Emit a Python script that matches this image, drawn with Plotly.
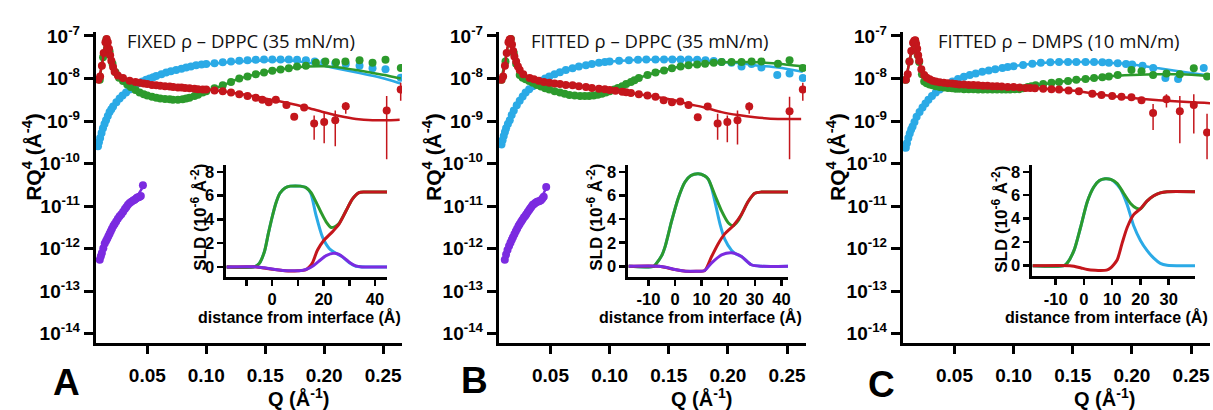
import plotly.graph_objects as go

W, H = 1213, 410

BLUE = "#2BAAE6"
GREEN = "#2C9A2C"
RED = "#C4161C"
PURPLE = "#7B2BE0"

# ---------------- Reflectivity data (Q in 1/A, log10 of RQ^4) ----------------
# Panel A : FIXED rho - DPPC (35 mN/m)
A_blue_q = [0.0082, 0.0090, 0.0100, 0.0112, 0.0124, 0.0137, 0.0150, 0.0165, 0.0180, 0.0195, 0.0210, 0.0238, 0.0265, 0.0290, 0.0320, 0.0350, 0.0375, 0.0400, 0.0430, 0.0460, 0.0490, 0.0520, 0.0550, 0.0576, 0.0620, 0.0660, 0.0700, 0.0745, 0.0790, 0.0830, 0.0870, 0.0914, 0.0960, 0.1000, 0.1070, 0.1140, 0.1210, 0.1280, 0.1350, 0.1420, 0.1490, 0.1560, 0.1630, 0.1700, 0.1770, 0.1845, 0.1920, 0.2000, 0.2094, 0.2183, 0.2300, 0.2410, 0.2520, 0.2649]
A_blue_v = [-9.59, -9.50, -9.40, -9.28, -9.17, -9.07, -8.98, -8.88, -8.79, -8.72, -8.66, -8.56, -8.47, -8.40, -8.33, -8.26, -8.21, -8.16, -8.11, -8.07, -8.03, -8.00, -7.97, -7.94, -7.90, -7.86, -7.83, -7.80, -7.77, -7.74, -7.72, -7.69, -7.67, -7.66, -7.64, -7.62, -7.60, -7.58, -7.57, -7.56, -7.55, -7.55, -7.55, -7.55, -7.56, -7.57, -7.60, -7.62, -7.64, -7.66, -7.70, -7.76, -7.78, -7.98]
A_blue_fit_q = [0.0082, 0.0124, 0.0180, 0.0238, 0.0350, 0.0460, 0.0576, 0.0745, 0.0914, 0.1140, 0.1420, 0.1650, 0.1850, 0.2000, 0.2150, 0.2300, 0.2450, 0.2560, 0.2650]
A_blue_fit_v = [-9.59, -9.17, -8.79, -8.56, -8.26, -8.07, -7.94, -7.80, -7.70, -7.63, -7.58, -7.57, -7.62, -7.70, -7.79, -7.87, -7.96, -8.04, -8.12]

A_green_q = [0.0097, 0.0125, 0.0153, 0.0180, 0.0205, 0.0230, 0.0260, 0.0294, 0.0330, 0.0360, 0.0400, 0.0435, 0.0470, 0.0500, 0.0540, 0.0576, 0.0610, 0.0650, 0.0690, 0.0717, 0.0760, 0.0800, 0.0830, 0.0858, 0.0900, 0.0930, 0.0970, 0.1000, 0.1070, 0.1140, 0.1210, 0.1280, 0.1350, 0.1420, 0.1490, 0.1560, 0.1630, 0.1700, 0.1770, 0.1845, 0.1930, 0.2010, 0.2100, 0.2180, 0.2300, 0.2410, 0.2520, 0.2650]
A_green_v = [-8.03, -7.50, -7.08, -7.36, -7.65, -7.85, -7.98, -8.06, -8.14, -8.20, -8.27, -8.33, -8.37, -8.40, -8.43, -8.45, -8.47, -8.48, -8.49, -8.50, -8.50, -8.49, -8.47, -8.45, -8.41, -8.38, -8.33, -8.30, -8.23, -8.16, -8.08, -8.00, -7.95, -7.90, -7.86, -7.82, -7.79, -7.76, -7.72, -7.70, -7.63, -7.60, -7.62, -7.60, -7.57, -7.63, -7.56, -7.75]
A_green_fit_q = [0.0097, 0.0153, 0.0200, 0.0250, 0.0294, 0.0435, 0.0576, 0.0717, 0.0858, 0.1000, 0.1140, 0.1280, 0.1420, 0.1550, 0.1700, 0.1850, 0.2000, 0.2130, 0.2270, 0.2410, 0.2550, 0.2650]
A_green_fit_v = [-8.03, -7.08, -7.62, -7.92, -8.06, -8.33, -8.45, -8.50, -8.46, -8.30, -8.16, -8.00, -7.90, -7.82, -7.76, -7.72, -7.71, -7.74, -7.80, -7.87, -7.94, -8.00]

A_red_q = [0.0085, 0.0100, 0.0115, 0.0130, 0.0145, 0.0155, 0.0165, 0.0175, 0.0185, 0.0195, 0.0210, 0.0223, 0.0250, 0.0294, 0.0350, 0.0400, 0.0435, 0.0470, 0.0500, 0.0540, 0.0576, 0.0610, 0.0650, 0.0690, 0.0720, 0.0760, 0.0790, 0.0820, 0.0858, 0.0900, 0.0930, 0.0970, 0.1000, 0.1070, 0.1140, 0.1210, 0.1280, 0.1350, 0.1420, 0.1475, 0.1530, 0.1590, 0.1680, 0.1746, 0.1830]
A_red_v = [-8.03, -7.95, -7.70, -7.40, -7.15, -7.07, -7.15, -7.30, -7.45, -7.58, -7.73, -7.84, -7.93, -7.99, -8.05, -8.08, -8.10, -8.12, -8.13, -8.15, -8.16, -8.17, -8.18, -8.19, -8.20, -8.21, -8.21, -8.22, -8.23, -8.24, -8.25, -8.26, -8.26, -8.28, -8.30, -8.33, -8.37, -8.41, -8.45, -8.50, -8.56, -8.50, -8.62, -8.90, -8.68]
A_red_err_q = [0.1915, 0.2000, 0.2094, 0.2183, 0.2530, 0.2649]
A_red_err_v = [-9.06, -9.02, -8.98, -8.65, -8.75, -8.26]
A_red_err_hi = [-8.87, -8.79, -8.75, -8.56, -8.41, -8.10]
A_red_err_lo = [-9.44, -9.52, -9.59, -8.83, -9.90, -8.52]
A_red_fit_q = [0.0085, 0.0115, 0.0145, 0.0155, 0.0175, 0.0195, 0.0223, 0.0294, 0.0435, 0.0576, 0.0858, 0.1000, 0.1140, 0.1280, 0.1420, 0.1550, 0.1700, 0.1850, 0.1980, 0.2130, 0.2270, 0.2410, 0.2550, 0.2640]
A_red_fit_v = [-8.03, -7.70, -7.15, -7.07, -7.30, -7.58, -7.84, -7.99, -8.10, -8.16, -8.22, -8.26, -8.30, -8.36, -8.43, -8.50, -8.58, -8.68, -8.78, -8.88, -8.95, -8.98, -8.98, -8.97]

A_purple_q = [0.0097, 0.0106, 0.0115, 0.0127, 0.0139, 0.0150, 0.0160, 0.0170, 0.0180, 0.0190, 0.0200, 0.0212, 0.0223, 0.0236, 0.0250, 0.0265, 0.0280, 0.0295, 0.0310, 0.0323, 0.0336, 0.0350, 0.0365, 0.0380, 0.0393, 0.0405, 0.0415, 0.0425, 0.0435, 0.0445, 0.0463]
A_purple_v = [-12.26, -12.18, -12.10, -11.99, -11.88, -11.82, -11.77, -11.71, -11.65, -11.59, -11.53, -11.47, -11.42, -11.36, -11.30, -11.24, -11.19, -11.13, -11.07, -11.02, -10.97, -10.93, -10.90, -10.87, -10.85, -10.82, -10.80, -10.79, -10.78, -10.76, -10.51]
A_purple_fit_q = [0.0097, 0.0150, 0.0200, 0.0250, 0.0300, 0.0350, 0.0400, 0.0463]
A_purple_fit_v = [-12.24, -11.82, -11.52, -11.29, -11.10, -10.94, -10.82, -10.55]

# Panel B : FITTED rho - DPPC (35 mN/m)
B_blue_q = [0.0086, 0.0095, 0.0105, 0.0115, 0.0125, 0.0140, 0.0156, 0.0172, 0.0190, 0.0215, 0.0240, 0.0265, 0.0290, 0.0320, 0.0351, 0.0385, 0.0420, 0.0455, 0.0490, 0.0535, 0.0580, 0.0630, 0.0687, 0.0740, 0.0800, 0.0850, 0.0910, 0.0960, 0.1000, 0.1080, 0.1163, 0.1240, 0.1310, 0.1388, 0.1460, 0.1530, 0.1600, 0.1667, 0.1740, 0.1810, 0.1880, 0.1947, 0.2030, 0.2115, 0.2200, 0.2283, 0.2417, 0.2521, 0.2633]
B_blue_v = [-9.55, -9.45, -9.35, -9.26, -9.17, -9.07, -8.98, -8.86, -8.75, -8.63, -8.52, -8.42, -8.33, -8.25, -8.18, -8.11, -8.05, -8.00, -7.95, -7.90, -7.85, -7.80, -7.76, -7.72, -7.69, -7.66, -7.63, -7.61, -7.60, -7.58, -7.57, -7.56, -7.55, -7.55, -7.55, -7.55, -7.55, -7.55, -7.56, -7.57, -7.59, -7.61, -7.63, -7.72, -7.66, -7.74, -7.92, -7.88, -7.99]
B_blue_fit_q = [0.0086, 0.0156, 0.0240, 0.0351, 0.0490, 0.0687, 0.0910, 0.1163, 0.1388, 0.1667, 0.1947, 0.2115, 0.2227, 0.2423, 0.2633]
B_blue_fit_v = [-9.55, -8.98, -8.52, -8.18, -7.95, -7.76, -7.63, -7.57, -7.55, -7.55, -7.61, -7.64, -7.69, -7.74, -7.84]

B_green_q = [0.0086, 0.0120, 0.0165, 0.0190, 0.0210, 0.0240, 0.0265, 0.0290, 0.0320, 0.0351, 0.0385, 0.0420, 0.0455, 0.0490, 0.0535, 0.0580, 0.0620, 0.0660, 0.0705, 0.0750, 0.0790, 0.0827, 0.0865, 0.0900, 0.0935, 0.0968, 0.1000, 0.1040, 0.1070, 0.1107, 0.1140, 0.1180, 0.1210, 0.1247, 0.1320, 0.1388, 0.1460, 0.1527, 0.1600, 0.1667, 0.1740, 0.1807, 0.1880, 0.1947, 0.2030, 0.2115, 0.2200, 0.2283, 0.2423, 0.2521, 0.2633]
B_green_v = [-8.03, -7.60, -7.07, -7.40, -7.65, -7.92, -7.98, -8.02, -8.06, -8.10, -8.15, -8.19, -8.23, -8.26, -8.30, -8.33, -8.36, -8.39, -8.40, -8.41, -8.41, -8.41, -8.40, -8.38, -8.36, -8.33, -8.30, -8.26, -8.22, -8.18, -8.13, -8.08, -8.04, -7.99, -7.92, -7.86, -7.81, -7.76, -7.72, -7.69, -7.67, -7.65, -7.63, -7.61, -7.61, -7.61, -7.60, -7.60, -7.65, -7.57, -7.75]
B_green_fit_q = [0.0086, 0.0165, 0.0210, 0.0240, 0.0351, 0.0490, 0.0660, 0.0827, 0.0968, 0.1107, 0.1247, 0.1388, 0.1527, 0.1667, 0.1807, 0.1947, 0.2115, 0.2283, 0.2423, 0.2633]
B_green_fit_v = [-8.03, -7.07, -7.65, -7.92, -8.10, -8.26, -8.39, -8.41, -8.33, -8.18, -7.99, -7.86, -7.76, -7.69, -7.65, -7.62, -7.61, -7.62, -7.65, -7.71]

B_red_q = [0.0086, 0.0100, 0.0115, 0.0130, 0.0145, 0.0155, 0.0165, 0.0175, 0.0185, 0.0195, 0.0210, 0.0225, 0.0240, 0.0270, 0.0324, 0.0360, 0.0400, 0.0445, 0.0490, 0.0535, 0.0580, 0.0630, 0.0687, 0.0740, 0.0800, 0.0850, 0.0910, 0.0960, 0.1000, 0.1050, 0.1107, 0.1140, 0.1180, 0.1247, 0.1320, 0.1388, 0.1457, 0.1527, 0.1597, 0.1667, 0.1745, 0.1829]
B_red_v = [-8.03, -7.95, -7.70, -7.40, -7.15, -7.08, -7.07, -7.20, -7.35, -7.48, -7.60, -7.72, -7.80, -7.90, -7.99, -8.02, -8.05, -8.08, -8.10, -8.12, -8.13, -8.15, -8.16, -8.18, -8.20, -8.22, -8.24, -8.25, -8.27, -8.29, -8.31, -8.32, -8.34, -8.37, -8.40, -8.43, -8.51, -8.56, -8.54, -8.62, -8.91, -8.66]
B_red_err_q = [0.1913, 0.1995, 0.2081, 0.2180, 0.2521, 0.2633]
B_red_err_v = [-9.06, -9.02, -8.98, -8.66, -8.77, -8.26]
B_red_err_hi = [-8.83, -8.87, -8.75, -8.56, -8.43, -8.10]
B_red_err_lo = [-9.44, -9.50, -9.55, -8.83, -9.90, -8.52]
B_red_fit_q = [0.0086, 0.0115, 0.0145, 0.0165, 0.0185, 0.0210, 0.0240, 0.0324, 0.0490, 0.0687, 0.0910, 0.1107, 0.1247, 0.1388, 0.1527, 0.1667, 0.1800, 0.1947, 0.2087, 0.2227, 0.2423, 0.2619]
B_red_fit_v = [-8.03, -7.70, -7.15, -7.07, -7.35, -7.60, -7.80, -7.99, -8.10, -8.16, -8.24, -8.31, -8.37, -8.43, -8.50, -8.60, -8.68, -8.79, -8.86, -8.91, -8.95, -8.95]

B_purple_q = [0.0114, 0.0125, 0.0137, 0.0150, 0.0162, 0.0173, 0.0183, 0.0195, 0.0207, 0.0218, 0.0230, 0.0240, 0.0252, 0.0263, 0.0275, 0.0286, 0.0296, 0.0308, 0.0320, 0.0330, 0.0341, 0.0351, 0.0362, 0.0374, 0.0386, 0.0397, 0.0408, 0.0420, 0.0432, 0.0443, 0.0464]
B_purple_v = [-12.26, -12.14, -12.03, -11.94, -11.86, -11.79, -11.73, -11.66, -11.59, -11.53, -11.47, -11.42, -11.37, -11.32, -11.27, -11.23, -11.19, -11.14, -11.09, -11.05, -11.01, -10.97, -10.95, -10.92, -10.90, -10.89, -10.88, -10.86, -10.82, -10.78, -10.55]
B_purple_fit_q = [0.0114, 0.0183, 0.0240, 0.0296, 0.0351, 0.0408, 0.0464]
B_purple_fit_v = [-12.24, -11.72, -11.42, -11.19, -10.98, -10.85, -10.58]

# Panel C : FITTED rho - DMPS (10 mN/m)
C_blue_q = [0.0089, 0.0098, 0.0110, 0.0122, 0.0134, 0.0146, 0.0162, 0.0180, 0.0205, 0.0230, 0.0255, 0.0280, 0.0310, 0.0342, 0.0375, 0.0410, 0.0445, 0.0483, 0.0530, 0.0580, 0.0630, 0.0680, 0.0735, 0.0790, 0.0845, 0.0905, 0.0950, 0.1000, 0.1080, 0.1158, 0.1230, 0.1310, 0.1384, 0.1460, 0.1530, 0.1608, 0.1680, 0.1750, 0.1805, 0.1880, 0.1950, 0.2002, 0.2090, 0.2180, 0.2283, 0.2390, 0.2607]
C_blue_v = [-9.63, -9.52, -9.40, -9.29, -9.20, -9.13, -9.02, -8.90, -8.79, -8.68, -8.59, -8.50, -8.41, -8.33, -8.26, -8.19, -8.13, -8.07, -8.01, -7.96, -7.92, -7.88, -7.84, -7.81, -7.78, -7.75, -7.73, -7.71, -7.68, -7.65, -7.63, -7.62, -7.61, -7.61, -7.61, -7.61, -7.61, -7.62, -7.63, -7.64, -7.66, -7.67, -7.70, -7.75, -7.99, -8.01, -7.75]
C_blue_fit_q = [0.0089, 0.0146, 0.0230, 0.0342, 0.0483, 0.0680, 0.0905, 0.1158, 0.1384, 0.1608, 0.1805, 0.2002, 0.2227, 0.2424, 0.2635]
C_blue_fit_v = [-9.63, -9.13, -8.68, -8.33, -8.07, -7.88, -7.75, -7.65, -7.61, -7.61, -7.63, -7.67, -7.76, -7.84, -7.92]

C_green_q = [0.0089, 0.0120, 0.0168, 0.0190, 0.0202, 0.0225, 0.0244, 0.0265, 0.0290, 0.0315, 0.0342, 0.0375, 0.0410, 0.0445, 0.0480, 0.0510, 0.0540, 0.0580, 0.0620, 0.0660, 0.0700, 0.0740, 0.0780, 0.0821, 0.0860, 0.0900, 0.0935, 0.0970, 0.1010, 0.1046, 0.1080, 0.1120, 0.1150, 0.1186, 0.1250, 0.1320, 0.1384, 0.1460, 0.1530, 0.1608, 0.1680, 0.1750, 0.1805, 0.1880, 0.1996, 0.2081, 0.2179, 0.2292, 0.2405, 0.2523, 0.2635]
C_green_v = [-8.03, -7.60, -7.11, -7.45, -7.61, -7.90, -8.07, -8.11, -8.14, -8.16, -8.18, -8.20, -8.21, -8.22, -8.23, -8.24, -8.24, -8.25, -8.25, -8.25, -8.26, -8.26, -8.26, -8.26, -8.26, -8.26, -8.26, -8.26, -8.25, -8.25, -8.23, -8.20, -8.18, -8.16, -8.13, -8.10, -8.08, -8.06, -8.03, -8.01, -7.99, -7.97, -7.95, -7.92, -7.80, -7.83, -7.92, -7.88, -7.90, -7.76, -7.95]
C_green_fit_q = [0.0089, 0.0168, 0.0202, 0.0244, 0.0342, 0.0540, 0.0821, 0.1046, 0.1186, 0.1384, 0.1608, 0.1805, 0.2002, 0.2227, 0.2424, 0.2635]
C_green_fit_v = [-8.03, -7.11, -7.61, -8.05, -8.18, -8.24, -8.26, -8.25, -8.16, -8.08, -8.01, -7.95, -7.92, -7.90, -7.90, -7.94]

C_red_q = [0.0089, 0.0105, 0.0120, 0.0135, 0.0150, 0.0160, 0.0168, 0.0176, 0.0185, 0.0193, 0.0202, 0.0220, 0.0244, 0.0265, 0.0290, 0.0315, 0.0342, 0.0375, 0.0410, 0.0445, 0.0480, 0.0510, 0.0540, 0.0580, 0.0620, 0.0660, 0.0700, 0.0740, 0.0780, 0.0821, 0.0860, 0.0900, 0.0950, 0.1000, 0.1050, 0.1102, 0.1140, 0.1180, 0.1250, 0.1320, 0.1384, 0.1465, 0.1552, 0.1665, 0.1743, 0.1833, 0.1912, 0.1996, 0.2081]
C_red_v = [-8.03, -7.90, -7.60, -7.35, -7.16, -7.11, -7.10, -7.18, -7.30, -7.45, -7.58, -7.78, -7.92, -7.98, -8.02, -8.05, -8.07, -8.09, -8.10, -8.11, -8.12, -8.13, -8.14, -8.14, -8.15, -8.15, -8.16, -8.17, -8.17, -8.18, -8.18, -8.19, -8.20, -8.20, -8.21, -8.22, -8.22, -8.23, -8.24, -8.25, -8.26, -8.28, -8.30, -8.36, -8.39, -8.41, -8.43, -8.44, -8.51]
C_red_err_q = [0.2179, 0.2292, 0.2405, 0.2523, 0.2635]
C_red_err_v = [-8.81, -8.49, -8.77, -8.62, -9.27]
C_red_err_hi = [-8.60, -8.37, -8.41, -8.37, -8.83]
C_red_err_lo = [-9.21, -8.68, -9.52, -9.29, -9.90]
C_red_fit_q = [0.0089, 0.0120, 0.0150, 0.0168, 0.0185, 0.0202, 0.0244, 0.0342, 0.0540, 0.0821, 0.1102, 0.1384, 0.1552, 0.1665, 0.1833, 0.2002, 0.2227, 0.2508, 0.2660]
C_red_fit_v = [-8.03, -7.60, -7.16, -7.10, -7.30, -7.58, -7.92, -8.07, -8.14, -8.18, -8.22, -8.26, -8.30, -8.35, -8.41, -8.46, -8.51, -8.56, -8.58]

# ---------------- SLD profiles (distance in A, SLD in 1e-6 A^-2) ----------------
A_sld_green_z = [-17.8, -7, -5, -3, -1.5, 0, 1.5, 3, 5, 7, 9, 11, 13, 15, 17, 19, 21, 23, 24.5, 26, 28.7, 31.2, 33.8, 36, 44.7]
A_sld_green = [0, 0, 0.3, 1.3, 2.8, 4.2, 5.4, 6.2, 6.65, 6.8, 6.82, 6.8, 6.7, 6.3, 5.5, 4.6, 3.8, 3.32, 3.4, 3.65, 4.7, 5.7, 6.25, 6.3, 6.3]
A_sld_blue_z = [-17.8, -7, -5, -3, -1.5, 0, 1.5, 3, 5, 7, 9, 11, 13, 15, 17, 19.6, 22.2, 24.8, 27, 30, 32.5, 44.7]
A_sld_blue = [0, 0, 0.3, 1.3, 2.8, 4.2, 5.4, 6.2, 6.65, 6.8, 6.82, 6.8, 6.7, 6.2, 4.4, 2.5, 1.55, 1.15, 0.9, 0.35, 0.05, 0]
A_sld_red_z = [-17.8, -6, 0, 5, 10, 13, 14.5, 15.7, 17.6, 20, 23.4, 26, 28.7, 31.2, 33.8, 36, 44.7]
A_sld_red = [0, 0, -0.2, -0.33, -0.33, -0.25, 0.0, 0.35, 1.4, 2.2, 2.95, 3.6, 4.7, 5.7, 6.25, 6.3, 6.3]
A_sld_purple_z = [-17.8, -6, -3, 0, 4, 8, 12, 14, 16, 18, 21, 24, 26, 28, 30, 32.5, 35, 44.7]
A_sld_purple = [0, 0, -0.08, -0.18, -0.3, -0.33, -0.28, -0.15, 0.1, 0.45, 0.95, 1.15, 1.05, 0.75, 0.4, 0.08, 0, 0]

B_sld_green_z = [-17.5, -8, -6.9, -5, -3.75, -1.25, 1.25, 3.75, 6, 8.7, 11, 12.5, 15, 17.5, 20, 21.9, 23.7, 25, 27.5, 30, 32.5, 42.5]
B_sld_green = [0, 0, 0.27, 0.9, 1.65, 3.85, 5.8, 7.15, 7.7, 7.85, 7.7, 7.4, 6.05, 4.7, 3.7, 3.45, 3.85, 4.4, 5.5, 6.2, 6.3, 6.3]
B_sld_blue_z = [-17.5, -8, -6.9, -5, -3.75, -1.25, 1.25, 3.75, 6, 8.7, 11, 12.5, 13.7, 15, 16.9, 18.7, 21.2, 22.5, 25, 28.7, 32.5, 42.5]
B_sld_blue = [0, 0, 0.27, 0.9, 1.65, 3.85, 5.8, 7.15, 7.7, 7.85, 7.7, 7.4, 6.7, 5.5, 3.6, 2.3, 1.37, 1.1, 0.83, 0.13, 0, 0]
B_sld_red_z = [-17.5, -6, 0, 4, 8, 11.2, 13.7, 16.2, 18.7, 21.9, 25, 27.5, 30, 32.5, 42.5]
B_sld_red = [0, 0, -0.28, -0.42, -0.42, -0.35, 0.8, 1.9, 2.75, 3.45, 4.4, 5.5, 6.2, 6.3, 6.3]
B_sld_purple_z = [-17.5, -6.25, -3, 0, 4, 8, 11, 13.7, 17.5, 21.2, 25, 28.7, 32.5, 42.5]
B_sld_purple = [0, 0, -0.1, -0.28, -0.42, -0.42, -0.38, 0.27, 0.96, 1.15, 0.83, 0.13, 0, 0]

C_sld_blue_z = [-18.2, -7, -5.9, -3.5, -1.2, 1.2, 3.5, 5.5, 7.5, 9.5, 11, 12.9, 15.3, 17.6, 20, 22.3, 24.7, 27, 29.4, 39.3]
C_sld_blue = [0, 0, 0.22, 1.3, 3.25, 5.45, 6.7, 7.25, 7.4, 7.35, 7.1, 6.55, 5.2, 3.4, 2.15, 1.3, 0.64, 0.2, 0.03, 0]
C_sld_green_z = [-18.2, -7, -5.9, -3.5, -1.2, 1.2, 3.5, 5.5, 7.5, 9.5, 11.8, 14.1, 16.5, 18.5, 20, 22.3, 24.7, 27, 29.4, 39.3]
C_sld_green = [0, 0, 0.22, 1.3, 3.25, 5.45, 6.7, 7.25, 7.4, 7.35, 7.0, 6.15, 5.3, 4.9, 4.85, 5.5, 5.95, 6.2, 6.3, 6.3]
C_sld_red_z = [-18.2, -5, -3.5, -1, 1.2, 4, 5.9, 8, 9.4, 10.6, 11.8, 13.5, 15.3, 17.6, 20, 22.3, 24.7, 27, 29.4, 39.3]
C_sld_red = [0, 0, -0.05, -0.2, -0.33, -0.4, -0.42, -0.38, -0.2, 0.1, 0.5, 1.9, 3.25, 4.35, 4.85, 5.5, 5.95, 6.2, 6.3, 6.3]

# ---------------- Text ----------------
panel_titles = ["FIXED ρ – DPPC (35 mN/m)", "FITTED ρ – DPPC (35 mN/m)", "FITTED ρ – DMPS (10 mN/m)"]
panel_letters = ["A", "B", "C"]
decades = [-14, -13, -12, -11, -10, -9, -8, -7]
q_ticks = [0.05, 0.10, 0.15, 0.20, 0.25]
q_ticklabels = ["0.05", "0.10", "0.15", "0.20", "0.25"]
sld_ticks = [0, 2, 4, 6, 8]

# ---------------- Build figure ----------------
def pw(vals):
    return [10 ** v for v in vals]

def px(x):
    return x / W

def py(y):
    return 1 - y / H

fig = go.Figure()

def add_refl(ax, q, v, fq, fv, color, size=8):
    fig.add_trace(go.Scatter(x=q, y=pw(v), mode="markers", xaxis="x" + ax, yaxis="y" + ax,
                             marker=dict(color=color, size=size, line=dict(width=0)),
                             showlegend=False, hoverinfo="skip"))
    fig.add_trace(go.Scatter(x=fq, y=pw(fv), mode="lines", xaxis="x" + ax, yaxis="y" + ax,
                             line=dict(color=color, width=2.5, shape="spline", smoothing=0.8),
                             showlegend=False, hoverinfo="skip"))

def add_err(ax, q, v, hi, lo, color):
    up = [10 ** h - 10 ** c for h, c in zip(hi, v)]
    dn = [10 ** c - 10 ** l for l, c in zip(lo, v)]
    fig.add_trace(go.Scatter(x=q, y=pw(v), mode="markers", xaxis="x" + ax, yaxis="y" + ax,
                             marker=dict(color=color, size=8),
                             error_y=dict(type="data", symmetric=False, array=up, arrayminus=dn,
                                          color=color, thickness=1.5, width=0),
                             showlegend=False, hoverinfo="skip"))

def add_sld(ax, z, s, color):
    fig.add_trace(go.Scatter(x=z, y=s, mode="lines", xaxis="x" + ax, yaxis="y" + ax,
                             line=dict(color=color, width=3, shape="spline", smoothing=0.7),
                             showlegend=False, hoverinfo="skip"))

# Panel A
add_refl("", A_blue_q, A_blue_v, A_blue_fit_q, A_blue_fit_v, BLUE)
add_refl("", A_green_q, A_green_v, A_green_fit_q, A_green_fit_v, GREEN)
add_refl("", A_red_q, A_red_v, A_red_fit_q, A_red_fit_v, RED)
add_err("", A_red_err_q, A_red_err_v, A_red_err_hi, A_red_err_lo, RED)
add_refl("", A_purple_q, A_purple_v, A_purple_fit_q, A_purple_fit_v, PURPLE)
# Panel B
add_refl("2", B_blue_q, B_blue_v, B_blue_fit_q, B_blue_fit_v, BLUE)
add_refl("2", B_green_q, B_green_v, B_green_fit_q, B_green_fit_v, GREEN)
add_refl("2", B_red_q, B_red_v, B_red_fit_q, B_red_fit_v, RED)
add_err("2", B_red_err_q, B_red_err_v, B_red_err_hi, B_red_err_lo, RED)
add_refl("2", B_purple_q, B_purple_v, B_purple_fit_q, B_purple_fit_v, PURPLE)
# Panel C
add_refl("3", C_blue_q, C_blue_v, C_blue_fit_q, C_blue_fit_v, BLUE)
add_refl("3", C_green_q, C_green_v, C_green_fit_q, C_green_fit_v, GREEN)
add_refl("3", C_red_q, C_red_v, C_red_fit_q, C_red_fit_v, RED)
add_err("3", C_red_err_q, C_red_err_v, C_red_err_hi, C_red_err_lo, RED)

# Insets
add_sld("4", A_sld_blue_z, A_sld_blue, BLUE)
add_sld("4", A_sld_green_z, A_sld_green, GREEN)
add_sld("4", A_sld_red_z, A_sld_red, RED)
add_sld("4", A_sld_purple_z, A_sld_purple, PURPLE)
add_sld("5", B_sld_blue_z, B_sld_blue, BLUE)
add_sld("5", B_sld_green_z, B_sld_green, GREEN)
add_sld("5", B_sld_red_z, B_sld_red, RED)
add_sld("5", B_sld_purple_z, B_sld_purple, PURPLE)
add_sld("6", C_sld_blue_z, C_sld_blue, BLUE)
add_sld("6", C_sld_green_z, C_sld_green, GREEN)
add_sld("6", C_sld_red_z, C_sld_red, RED)

FONT = "Liberation Sans"
tick_font_main = dict(family=FONT, size=19, color="black", weight="bold")
tick_font_in = dict(family=FONT, size=16.5, color="black", weight="bold")

layout = dict(width=W, height=H, margin=dict(l=0, r=0, t=0, b=0),
              paper_bgcolor="white", plot_bgcolor="rgba(0,0,0,0)", showlegend=False)

main_x = [(96, 403), (500, 808), (905, 1213)]
for i, (l, r) in enumerate(main_x):
    n = "" if i == 0 else str(i + 1)
    layout["xaxis" + n] = dict(domain=[px(l), px(r)], range=[0.0063, 0.266], anchor="y" + n,
                               showline=True, linecolor="black", linewidth=3, ticks="outside",
                               ticklen=8, tickwidth=3, tickcolor="black", tickvals=q_ticks,
                               ticktext=q_ticklabels, tickfont=tick_font_main, showgrid=False,
                               zeroline=False, ticklabelstandoff=5)
    layout["yaxis" + n] = dict(domain=[py(342), py(23)], type="log", range=[-14.215, -6.915],
                               anchor="x" + n, showline=True, linecolor="black", linewidth=3,
                               ticks="outside", ticklen=9, tickwidth=3, tickcolor="black",
                               tickvals=[10 ** d for d in decades],
                               ticktext=["10<sup>%d</sup>" % d for d in decades],
                               tickfont=tick_font_main, showgrid=False, zeroline=False)

insets = [
    ((227, 388), (-17.8, 44.7), (-0.82, 8.6), [-10, 0, 10, 20, 30, 40], ["", "0", "", "20", "", "40"]),
    ((630, 790), (-17.5, 42.5), (-0.88, 8.62), [-10, 0, 10, 20, 30, 40], ["-10", "0", "10", "20", "30", "40"]),
    ((1035, 1198), (-18.2, 39.3), (-0.88, 8.6), [-10, 0, 10, 20, 30], ["-10", "0", "10", "20", "30"]),
]
for i, ((l, r), xr, yr, tv, tt) in enumerate(insets):
    n = str(i + 4)
    bottom = 274 if i < 2 else 273.3
    layout["xaxis" + n] = dict(domain=[px(l), px(r)], range=list(xr), anchor="y" + n,
                               showline=True, linecolor="black", linewidth=3, ticks="outside",
                               ticklen=6, tickwidth=2.5, tickcolor="black", tickvals=tv, ticktext=tt,
                               tickfont=tick_font_in, showgrid=False, zeroline=False)
    layout["yaxis" + n] = dict(domain=[py(bottom), py(159)], range=list(yr), anchor="x" + n,
                               showline=True, linecolor="black", linewidth=3, ticks="outside",
                               ticklen=6, tickwidth=2.5, tickcolor="black", tickvals=sld_ticks,
                               tickfont=tick_font_in, showgrid=False, zeroline=False)

ann = []
def text(x, y, s, size, bold=True, angle=0, family=FONT, color="black"):
    ann.append(dict(x=px(x), y=py(y), xref="paper", yref="paper", text=s, showarrow=False,
                    xanchor="center", yanchor="middle", textangle=angle,
                    font=dict(family=family, size=size, color=color,
                              weight="bold" if bold else "normal")))

title_x = [242, 652, 1062]
ytitle_x = [32, 433, 838]
xtitle_x = [299, 703, 1107]
letter_pos = [(67, 383), (476, 381), (884, 385)]
inset_xt = [300, 702, 1109]
inset_yt = [(200, 213), (597, 213), (1003, 215)]
for i in range(3):
    text(title_x[i], 31, panel_titles[i], 18.5, bold=False, family="Open Sans", color="#111111")
    text(ytitle_x[i], 151, "RQ<sup>4</sup> (Å<sup>-4</sup>)", 21, angle=-90)
    text(xtitle_x[i], 398, "Q (Å<sup>-1</sup>)", 20)
    text(letter_pos[i][0], letter_pos[i][1], panel_letters[i], 37)
    text(inset_xt[i], 315, "distance from interface (Å)", 16)
    text(inset_yt[i][0], inset_yt[i][1], "SLD (10<sup>-6</sup> Å<sup>-2</sup>)", 17, angle=-90)
layout["annotations"] = ann

fig.update_layout(**layout)

# place the figure flush with the page corner (no default body margin / scrollbars)
page_fix = ("document.documentElement.style.margin='0';document.documentElement.style.overflow='hidden';"
            "document.body.style.margin='0';document.body.style.padding='0';document.body.style.overflow='hidden';")
fig.write_html("out.html", post_script=page_fix, config={"displayModeBar": False, "staticPlot": True})
